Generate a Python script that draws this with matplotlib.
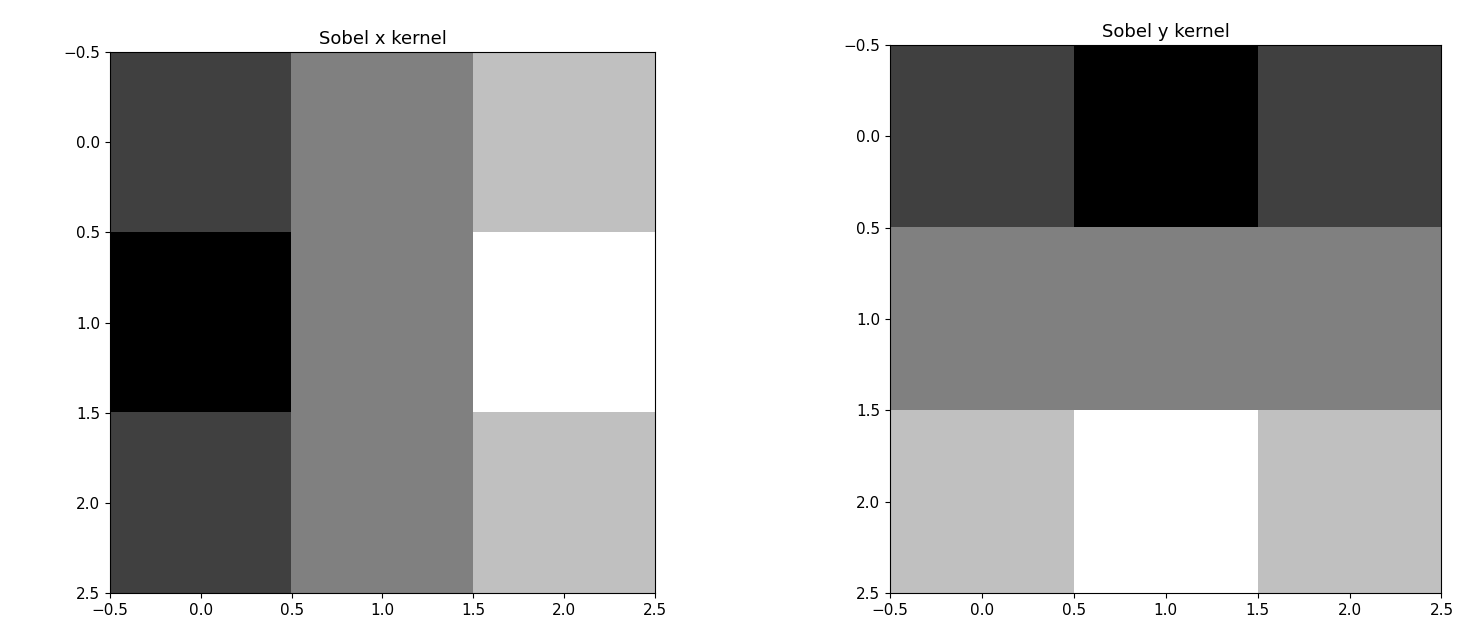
import numpy as np
import matplotlib.pyplot as plt

# Sobel kernels
sobel_x = np.array([[-1, 0, 1],
                    [-2, 0, 2],
                    [-1, 0, 1]])
sobel_y = np.array([[-1, -2, -1],
                    [0, 0, 0],
                    [1, 2, 1]])

titles = ['Sobel x kernel', 'Sobel y kernel']
kernels = [sobel_x, sobel_y]

fig = plt.figure(figsize=(14.59, 6.32), dpi=100)
ax1 = fig.add_axes([0.0754, 0.0617, 0.3735, 0.856])
ax2 = fig.add_axes([0.610, 0.0617, 0.378, 0.867])

for ax, k, t in zip([ax1, ax2], kernels, titles):
    ax.imshow(k, cmap='gray', aspect='auto')
    ax.set_title(t, fontsize=13)
    ax.tick_params(labelsize=11)

fig.savefig('out.png', dpi=100)
